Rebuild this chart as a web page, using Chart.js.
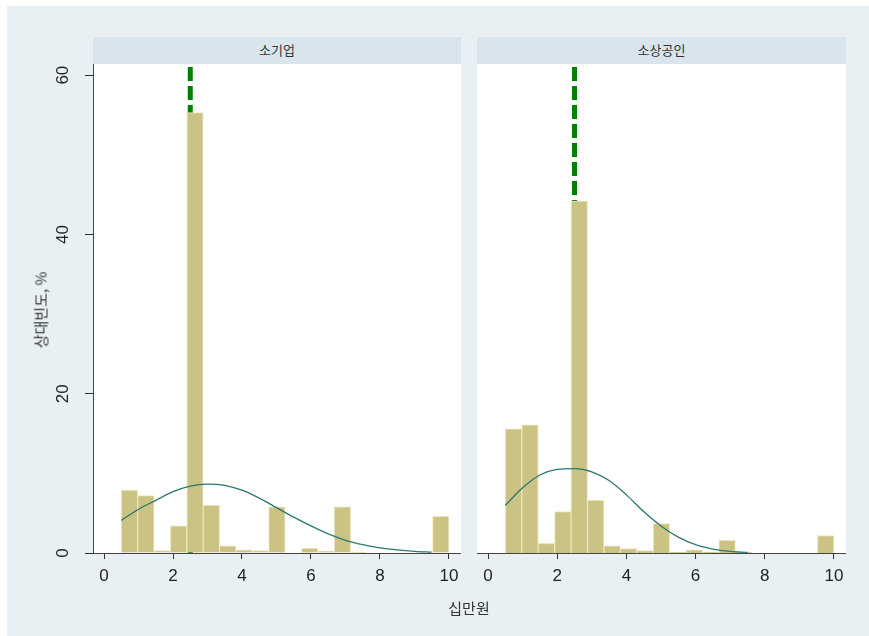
<!DOCTYPE html>
<html>
<head>
<meta charset="utf-8">
<script src="https://cdn.jsdelivr.net/npm/chart.js@4.4.1/dist/chart.umd.min.js"></script>
<style>
  html, body { margin: 0; padding: 0; background: #fff; }
  #page { position: relative; width: 869px; height: 636px; overflow: hidden; }
  #bg { position: absolute; left: 7px; top: 6px; right: 0; bottom: 0; background: #e8f0f3; }
  .strip { position: absolute; top: 37px; height: 27px; background: #d9e5ec; color: #333;
           font: 13px "Noto Sans CJK KR", sans-serif; text-align: center; line-height: 26px; }
  canvas { position: absolute; }
  .title { position: absolute; color: #333; font: 15px "Noto Sans CJK KR", sans-serif; white-space: nowrap; }
</style>
</head>
<body>
<div id="page">
  <div id="bg"></div>
  <div class="strip" id="stripL" style="left:93px; width:368px;"></div>
  <div class="strip" id="stripR" style="left:477px; width:369px;"></div>
  <canvas id="chartL" width="421" height="536" style="left:40px; top:64px;"></canvas>
  <canvas id="chartR" width="369" height="536" style="left:477px; top:64px;"></canvas>
  <div class="title" id="yTitle" style="left:40px; top:310px; transform: translate(-50%, -50%) rotate(-90deg);"></div>
  <div class="title" id="xTitle" style="left:469px; top:607px; transform: translate(-50%, -50%);"></div>
</div>
<script>
// panel names and axis titles
const panels = ['소기업', '소상공인'];
const yTitle = '상대빈도, %';
const xTitle = '십만원';

// histogram bins (centres, width 0.475 from 0.5 to 10)
const binCenters = [0.7375, 1.2125, 1.6875, 2.1625, 2.6375, 3.1125, 3.5875, 4.0625, 4.5375, 5.0125,
                    5.4875, 5.9625, 6.4375, 6.9125, 7.3875, 7.8625, 8.3375, 8.8125, 9.2875, 9.7625];
const pctSmall = [7.9, 7.2, 0.3, 3.4, 55.3, 6.0, 0.9, 0.4, 0.3, 5.8,
                  0, 0.6, 0.2, 5.8, 0.1, 0, 0, 0, 0, 4.6];
const pctMicro = [15.6, 16.1, 1.2, 5.2, 44.2, 6.6, 0.9, 0.55, 0.3, 3.7,
                  0.1, 0.4, 0.1, 1.6, 0.1, 0, 0, 0, 0, 2.2];

// normal density overlay
const curveXSmall = [0.5, 1, 1.5, 2, 2.5, 3, 3.5, 4, 4.5, 5, 5.5, 6, 6.5, 7, 7.5, 8, 8.5, 9, 9.5];
const curveYSmall = [4.1, 5.5, 6.6, 7.7, 8.4, 8.65, 8.5, 7.9, 6.9, 5.7, 4.5, 3.4, 2.4, 1.6, 1.05, 0.65, 0.38, 0.2, 0.1];
const curveXMicro = [0.5, 1, 1.5, 2, 2.5, 3, 3.5, 4, 4.5, 5, 5.5, 6, 6.5, 7, 7.5];
const curveYMicro = [6.0, 8.2, 9.8, 10.5, 10.6, 10.2, 9.1, 7.3, 5.2, 3.4, 2.0, 1.05, 0.5, 0.2, 0.07];

// median reference lines
const medianSmall = 2.5;
const medianMicro = 2.5;

const xTicks = [0, 2, 4, 6, 8, 10];
const yTicks = [0, 20, 40, 60];

document.getElementById('stripL').textContent = panels[0];
document.getElementById('stripR').textContent = panels[1];
document.getElementById('yTitle').textContent = yTitle;
document.getElementById('xTitle').textContent = xTitle;

const X_MIN = -0.32, X_MAX = 10.35, Y_MAX = 61.4;
const tickFont = { family: "'Liberation Sans', Arial, sans-serif", size: 17 };

const panelBg = {
  id: 'panelBg',
  beforeDraw(chart) {
    const { ctx, chartArea: a } = chart;
    ctx.save();
    ctx.fillStyle = '#ffffff';
    ctx.fillRect(a.left, a.top, a.right - a.left, a.bottom - a.top);
    ctx.restore();
  }
};

function makePanel(canvasId, pct, cx, cy, median, showY) {
  return new Chart(document.getElementById(canvasId), {
    type: 'bar',
    data: {
      datasets: [
        {
          type: 'line',
          data: [{ x: median, y: Y_MAX }, { x: median, y: 0 }],
          borderColor: '#008000',
          borderWidth: 5,
          borderDash: [14, 5],
          borderDashOffset: -3,
          pointRadius: 0,
          order: 3
        },
        {
          data: binCenters.map((x, i) => ({ x, y: pct[i] })),
          backgroundColor: '#cbc383',
          borderColor: '#ebe6bd',
          borderWidth: 1,
          barPercentage: 1,
          categoryPercentage: 1,
          order: 2
        },
        {
          type: 'line',
          data: cx.map((x, i) => ({ x, y: cy[i] })),
          borderColor: '#2b7770',
          borderWidth: 1.3,
          pointRadius: 0,
          cubicInterpolationMode: 'monotone',
          order: 1
        }
      ]
    },
    options: {
      responsive: false,
      animation: false,
      events: [],
      layout: { padding: 0 },
      plugins: { legend: { display: false }, tooltip: { enabled: false } },
      scales: {
        x: {
          type: 'linear',
          min: X_MIN,
          max: X_MAX,
          offset: false,
          afterBuildTicks: s => { s.ticks = xTicks.map(v => ({ value: v })); },
          afterFit: s => { s.height = 47; s.paddingLeft = 0; s.paddingRight = 0; },
          grid: { drawOnChartArea: false, offset: false, tickLength: 6, color: '#333' },
          border: { display: true, color: '#444', width: 1 },
          ticks: { font: tickFont, color: '#222', padding: 7, maxRotation: 0 }
        },
        y: {
          display: showY,
          min: 0,
          max: Y_MAX,
          afterBuildTicks: s => { s.ticks = yTicks.map(v => ({ value: v })); },
          afterFit: s => { s.width = showY ? 53 : 0; s.paddingTop = 0; s.paddingBottom = 0; },
          grid: { drawOnChartArea: false, tickLength: 8, color: '#333' },
          border: { display: true, color: '#444', width: 1 },
          ticks: { font: tickFont, color: '#222', padding: 12, minRotation: 90, maxRotation: 90, crossAlign: 'center' }
        }
      }
    },
    plugins: [panelBg]
  });
}

makePanel('chartL', pctSmall, curveXSmall, curveYSmall, medianSmall, true);
makePanel('chartR', pctMicro, curveXMicro, curveYMicro, medianMicro, false);
</script>
</body>
</html>
